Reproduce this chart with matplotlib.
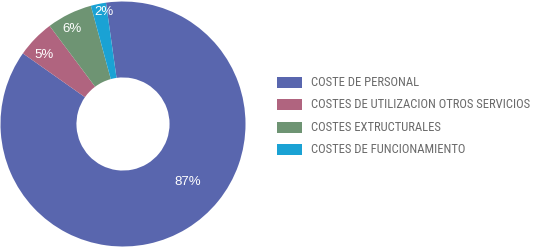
import numpy as np
import matplotlib
matplotlib.use("Agg")
import matplotlib.pyplot as plt
from matplotlib.patches import Rectangle
from matplotlib import font_manager as fm

categories = ["COSTE DE PERSONAL", "COSTES DE UTILIZACION OTROS SERVICIOS",
              "COSTES EXTRUCTURALES", "COSTES DE FUNCIONAMIENTO"]
values = [87, 5, 6, 2]
colors = ["#5966AE", "#B0647F", "#6E9473", "#1AA2D4"]

W, H = 535, 247
fig = plt.figure(figsize=(W / 100, H / 100), dpi=100)
fig.patch.set_facecolor("white")

fam = ["Liberation Sans", "DejaVu Sans"]

# find a narrow/condensed font for the legend if one is installed
names = {f.name for f in fm.fontManager.ttflist}
leg_fam, leg_stretch = None, "normal"
for cand in ["Liberation Sans Narrow", "Roboto Condensed", "Open Sans Condensed",
             "Noto Sans Condensed", "DejaVu Sans Condensed"]:
    if cand in names:
        leg_fam = cand
        break
if leg_fam is None:
    cond = [f for f in fm.fontManager.ttflist
            if str(f.stretch) in ("condensed", "semi-condensed", "500", "375", "250")
            or "Condensed" in f.fname or "Narrow" in f.fname]
    cond_reg = [f for f in cond if f.weight in (400, "normal", "regular") and f.style == "normal"]
    pick = (cond_reg or cond or [None])[0]
    if pick is not None:
        leg_fam = pick.name
        leg_stretch = pick.stretch
if leg_fam is None:
    leg_fam = "Liberation Sans"

cx, cy, R = 123, 124, 122.5
ax = fig.add_axes([(cx - R) / W, (H - cy - R) / H, 2 * R / W, 2 * R / H])
wedges, _ = ax.pie(values, colors=colors, startangle=98, counterclock=False,
                   radius=1.0, wedgeprops=dict(width=0.62, linewidth=0))
ax.set_xlim(-1, 1)
ax.set_ylim(-1, 1)
ax.set_aspect("equal")
ax.axis("off")

# percentage labels (radius, angle offset from wedge middle)
label_r = [0.71, 0.86, 0.88, 0.93]
label_shift = [0, 3, 2, -2]
for w, v, r, s in zip(wedges, values, label_r, label_shift):
    mid = np.deg2rad((w.theta1 + w.theta2) / 2 + s)
    if v == max(values):
        mid = np.deg2rad(-42)
    ax.text(r * np.cos(mid), r * np.sin(mid), f"{v}%", color="white",
            ha="center", va="center", fontsize=9.5, family=fam)

# legend
box_x, box_w, box_h = 277, 25, 11
text_x = 311
rows_y = [82.5, 104.5, 127.5, 149.5]
texts = []
for cat, col, y in zip(categories, colors, rows_y):
    fig.patches.append(Rectangle((box_x / W, 1 - (y + box_h / 2) / H), box_w / W, box_h / H,
                                 transform=fig.transFigure, facecolor=col, edgecolor="none"))
    texts.append(fig.text(text_x / W, 1 - y / H, cat, color="#6a6a6a", fontsize=9.5,
                          va="center", ha="left", family=[leg_fam, "DejaVu Sans"],
                          fontstretch=leg_stretch))

# fit the longest legend text into the available width, without exceeding ~13px
fig.canvas.draw()
r = fig.canvas.get_renderer()
maxw = max(t.get_window_extent(r).width for t in texts)
target = 221
fs = min(9.8, 9.5 * target / maxw)
for t in texts:
    t.set_fontsize(fs)

fig.savefig("out.png", dpi=100, facecolor="white")
